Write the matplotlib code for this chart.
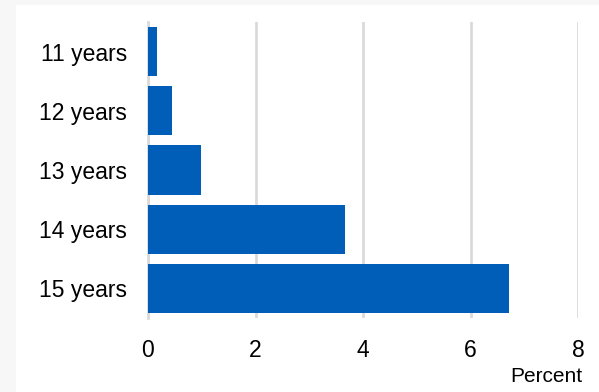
import matplotlib
matplotlib.use('Agg')
import matplotlib.pyplot as plt
from matplotlib.patches import Rectangle

plt.rcParams['font.family'] = ['Liberation Sans', 'DejaVu Sans']

# Data
ages = ['11 years', '12 years', '13 years', '14 years', '15 years']
percent = [0.17, 0.45, 0.98, 3.67, 6.72]
xticks = [0, 2, 4, 6, 8]

fig = plt.figure(figsize=(5.99, 3.92), dpi=100)
fig.patch.set_facecolor('#f7f7f7')
# white panel inside the light grey frame (drawn beneath the axes)
fig.add_artist(Rectangle((16 / 599, 0), 1, 1 - 5 / 392, transform=fig.transFigure,
                         facecolor='white', edgecolor='none', zorder=-10))

ax = fig.add_axes([148 / 599, 1 - 318 / 392, 430 / 599, 296 / 392])
ax.set_facecolor('none')

ax.barh(range(len(ages)), percent, height=0.83, color='#005EB8', zorder=3)

ax.set_xlim(0, 8)
ax.set_ylim(len(ages) - 0.5, -0.5)
ax.set_yticks(range(len(ages)))
ax.set_yticklabels(ages, fontsize=16.5)
ax.set_xticks(xticks)
ax.set_xticklabels([str(t) for t in xticks], fontsize=16.5)
ax.tick_params(axis='x', length=0, pad=15)
ax.tick_params(axis='y', length=0, pad=15)

ax.grid(axis='x', color='#dadada', linewidth=2, zorder=0)
for s in ['top', 'right', 'bottom']:
    ax.spines[s].set_visible(False)
ax.spines['left'].set_color('#dadada')
ax.spines['left'].set_linewidth(2)

fig.text(582 / 599, 1 - 377 / 392, 'Percent', ha='right', va='center', fontsize=15)

fig.savefig('out.png', dpi=100, facecolor=fig.get_facecolor())
